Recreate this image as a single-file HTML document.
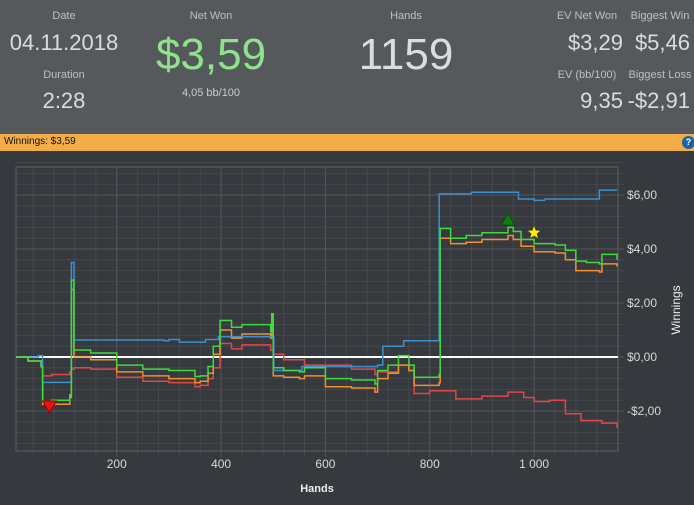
<!DOCTYPE html>
<html><head><meta charset="utf-8"><style>
body{margin:0;width:694px;height:505px;overflow:hidden;background:#36393d;font-family:"Liberation Sans",sans-serif;}
#hdr{position:absolute;left:0;top:0;width:694px;height:134px;background:#56595c;}
.t{position:absolute;text-align:center;color:#c8c8c8;white-space:nowrap;}
.lab{font-size:11px;color:#bfbfbf;}
.v{font-size:22px;color:#dcdcdc;}
#bar{position:absolute;left:0;top:134px;width:694px;height:17px;background:#f2ad47;}
#bar span{position:absolute;left:4px;top:2px;font-size:10px;color:#111;}
#help{position:absolute;left:682px;top:2px;width:13px;height:13px;border-radius:50%;background:#1a63a8;color:#fff;font-size:9px;text-align:center;line-height:13px;font-weight:bold;}
svg{position:absolute;left:0;top:0;}
</style></head><body>
<div id="hdr">
<div class="t lab" style="left:24px;width:80px;top:10px">Date</div>
<div class="t v" style="left:4px;width:120px;top:30px">04.11.2018</div>
<div class="t lab" style="left:24px;width:80px;top:69px">Duration</div>
<div class="t v" style="left:24px;width:80px;top:88px">2:28</div>
<div class="t lab" style="left:161px;width:100px;top:10px">Net Won</div>
<div class="t" style="left:131px;width:160px;top:30px;font-size:44px;color:#8ee38b">$3,59</div>
<div class="t" style="left:161px;width:100px;top:87px;font-size:11px;color:#ccc">4,05 bb/100</div>
<div class="t lab" style="left:356px;width:100px;top:10px">Hands</div>
<div class="t" style="left:336px;width:140px;top:30px;font-size:44px;color:#dcdcdc">1159</div>
<div class="t lab" style="left:547px;width:80px;top:10px">EV Net Won</div>
<div class="t v" style="left:547px;top:30px;text-align:right;width:76px">$3,29</div>
<div class="t lab" style="left:625px;width:70px;top:10px">Biggest Win</div>
<div class="t v" style="left:620px;width:70px;top:30px;text-align:right">$5,46</div>
<div class="t lab" style="left:547px;width:80px;top:69px">EV (bb/100)</div>
<div class="t v" style="left:547px;width:76px;top:88px;text-align:right">9,35</div>
<div class="t lab" style="left:625px;width:70px;top:69px">Biggest Loss</div>
<div class="t v" style="left:620px;width:70px;top:88px;text-align:right">-$2,91</div>
</div>
<div id="bar"><span>Winnings: $3,59</span><div id="help">?</div></div>
<svg id="c" width="694" height="505"></svg>
<script>
const xTicks=[200,400,600,800,1000];
const xTickLabels=["200","400","600","800","1 000"];
const yTicks=[-2,0,2,4,6];
const yTickLabels=["-$2,00","$0,00","$2,00","$4,00","$6,00"];
const blueH=[7,50,58,112,113,116,118,290,300,320,370,395,500,501,555,700,710,750,818,880,965,970,1000,1020,1125,1159];
const blueV=[0,0.05,-0.94,-0.94,3.5,3.5,0.63,0.6,0.65,0.55,0.65,0.75,0.75,-0.5,-0.35,-0.3,0.4,0.6,6.04,6.1,6.1,5.85,5.8,5.85,6.18,6.18];
const greenH=[7,30,55,58,75,110,113,116,118,150,200,250,300,350,360,375,385,398,420,440,495,497,500,520,550,560,600,650,695,700,720,740,760,770,818,820,840,870,900,950,960,975,1000,1040,1060,1080,1100,1125,1130,1159];
const greenV=[0,-0.15,-0.35,-1.65,-1.6,-1.4,2.85,2.85,0.26,0.15,-0.3,-0.45,-0.5,-0.72,-0.7,-0.35,0.4,1.35,1.1,1.2,0.95,1.6,-0.4,-0.5,-0.55,-0.4,-0.8,-0.85,-1.0,-0.5,-0.3,0.05,-0.3,-0.75,-0.65,4.76,4.4,4.5,4.6,4.8,4.65,4.35,4.2,4.15,3.95,3.55,3.5,3.45,3.8,3.6];
const orangeH=[7,30,55,58,75,110,113,116,118,150,200,250,300,350,360,375,385,398,420,440,495,497,500,520,550,560,600,650,695,700,720,740,760,770,818,820,840,870,900,950,960,975,1000,1040,1060,1080,1100,1125,1130,1159];
const orangeV=[0,-0.15,-0.35,-1.75,-1.75,-1.5,2.5,2.5,0.0,-0.1,-0.55,-0.7,-0.8,-0.95,-0.9,-0.6,0.1,1.0,0.7,0.85,0.7,1.3,-0.7,-0.75,-0.8,-0.7,-1.1,-1.15,-1.3,-0.8,-0.6,-0.3,-0.5,-1.05,-0.95,4.4,4.2,4.25,4.35,4.5,4.35,4.1,3.9,3.85,3.6,3.2,3.2,3.15,3.45,3.35];
const redH=[7,30,55,58,75,110,113,118,150,200,250,300,350,360,375,385,398,420,440,495,500,520,560,600,650,695,700,740,760,770,800,850,900,950,980,1000,1030,1060,1090,1130,1159];
const redV=[0,-0.15,-0.35,-0.7,-0.65,-0.55,-0.45,-0.4,-0.45,-0.75,-0.9,-0.95,-1.1,-1.05,-0.8,-0.4,0.5,0.3,0.45,0.25,0.1,-0.1,-0.3,-0.3,-0.45,-0.65,-0.55,-0.3,-0.5,-1.35,-1.25,-1.55,-1.45,-1.3,-1.5,-1.65,-1.6,-2.1,-2.35,-2.45,-2.62];
const markerMin=[71,-1.85], markerMax=[950,5.1], markerStar=[1000,4.6];
const L=16,R=618,T=167,B=451;
const X=h=>12.4+h*0.5217;
const Y=v=>357-v*27;
const svg=document.getElementById('c');
const NS='http://www.w3.org/2000/svg';
function mk(t,a){const e=document.createElementNS(NS,t);for(const k in a)e.setAttribute(k,a[k]);svg.appendChild(e);return e;}
for(let h=40;h<1160;h+=40){const g=mk('line',{x1:X(h),x2:X(h),y1:T,y2:B+6,stroke:h%200===0?'#55585c':'#45484c','stroke-width':1});

}
for(let v=-3.2;v<7.3;v+=0.4){const vv=Math.round(v*10)/10;const g=mk('line',{x1:L,x2:R+6,y1:Y(vv),y2:Y(vv),stroke:Math.abs(vv%2)<0.01?'#55585c':'#45484c','stroke-width':1});

}
const fr=mk('rect',{x:L,y:T,width:R-L,height:B-T,fill:'none',stroke:'#5c5f63'});


xTicks.forEach((h,i)=>{const t=mk('text',{x:X(h),y:468,fill:'#d8d8d8','font-size':12,'text-anchor':'middle','font-family':'Liberation Sans'});t.textContent=xTickLabels[i];

});
yTicks.forEach((v,i)=>{const t=mk('text',{x:627,y:Y(v)+4,fill:'#d8d8d8','font-size':12,'font-family':'Liberation Sans'});t.textContent=yTickLabels[i];

});
const xt=mk('text',{x:317,y:492,fill:'#eee','font-size':11,'font-weight':'bold','text-anchor':'middle','font-family':'Liberation Sans'});xt.textContent='Hands';


const yt=mk('text',{x:0,y:0,fill:'#eee','font-size':12,'text-anchor':'middle','font-family':'Liberation Sans',transform:'translate(680,310) rotate(-90)'});yt.textContent='Winnings';


const zl=mk('line',{x1:L,x2:R,y1:Y(0),y2:Y(0),stroke:'#fff','stroke-width':2});


function series(H,V,col,name){let d='';H.forEach((h,i)=>{if(i===0)d+='M'+X(h)+','+Y(V[i]);else d+='H'+X(h)+'V'+Y(V[i]);});
const p=mk('path',{d:d,fill:'none',stroke:col,'stroke-width':1.5});

}
series(redH,redV,'#e04848','red-line');
series(orangeH,orangeV,'#f09030','orange-line');
series(blueH,blueV,'#3a90d0','blue-line');
series(greenH,greenV,'#3ddc3d','green-line');
const m1=mk('path',{d:`M${X(markerMin[0])-7},${Y(markerMin[1])-6}h14l-7,12z`,fill:'#ee1111',stroke:'#900'});


const m2=mk('path',{d:`M${X(markerMax[0])-7},${Y(markerMax[1])+6}h14l-7,-12z`,fill:'#117a11',stroke:'#0a4a0a'});


const cx=X(markerStar[0]),cy=Y(markerStar[1]);let sp='';
for(let i=0;i<10;i++){const r=i%2?2.8:6.5,a=-Math.PI/2+i*Math.PI/5;sp+=(cx+r*Math.cos(a))+','+(cy+r*Math.sin(a))+' ';}
const m3=mk('polygon',{points:sp,fill:'#ffee00'});


</script>
</body></html>
